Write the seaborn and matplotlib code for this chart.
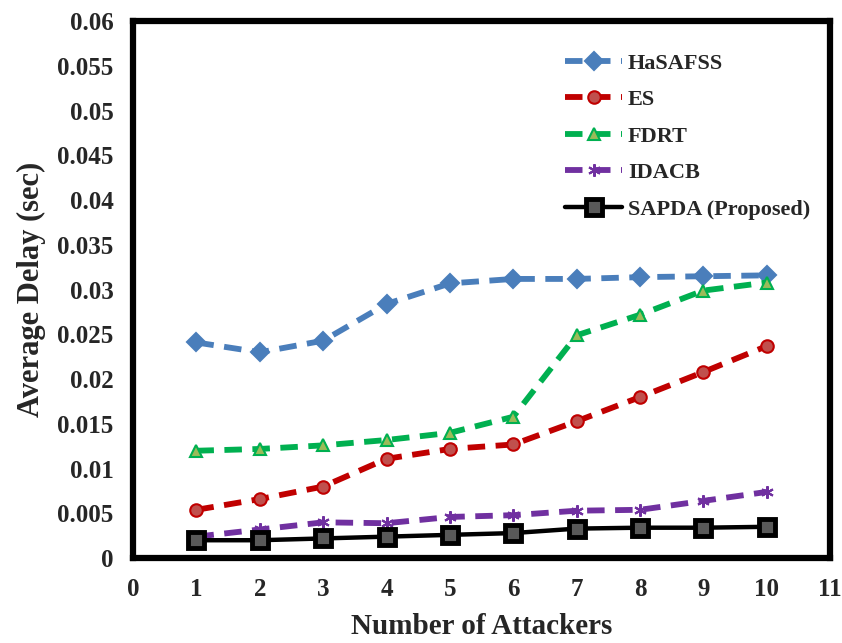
import matplotlib
matplotlib.use("Agg")
import matplotlib.pyplot as plt
from matplotlib.ticker import MultipleLocator, AutoMinorLocator
import seaborn as sns
import pandas as pd

attackers = [1, 2, 3, 4, 5, 6, 7, 8, 9, 10]
hasafss = [0.0241, 0.0230, 0.0243, 0.0284, 0.0307, 0.0312, 0.0312, 0.0314, 0.0315, 0.0316]
es = [0.0054, 0.0066, 0.0080, 0.0111, 0.0122, 0.0127, 0.0153, 0.0180, 0.0208, 0.0237]
fdrt = [0.0120, 0.0122, 0.0126, 0.0132, 0.0140, 0.0158, 0.0249, 0.0272, 0.0299, 0.0308]
idacb = [0.0024, 0.0032, 0.0040, 0.0039, 0.0046, 0.0048, 0.0053, 0.0054, 0.0064, 0.0074]
sapda = [0.0020, 0.0020, 0.0022, 0.0024, 0.0026, 0.0028, 0.0033, 0.0034, 0.0034, 0.0035]

sns.set_style("white")
plt.rcParams['font.family'] = ['Liberation Serif', 'DejaVu Serif']
plt.rcParams['font.weight'] = 'bold'

series = [
    # name, values, line colour, marker, marker face, dashed
    ("HaSAFSS", hasafss, "#4a7ebb", "D", "#4a7ebb", True),
    ("ES", es, "#c00000", "o", "#c0504d", True),
    ("FDRT", fdrt, "#00b050", "^", "#9bbb59", True),
    ("IDACB", idacb, "#7030a0", (6, 2, 0), "#7030a0", True),
    ("SAPDA (Proposed)", sapda, "black", "s", "#595959", False),
]

fig = plt.figure(figsize=(8.42, 6.43), dpi=100)
ax = fig.add_axes([0.158, 0.132, 0.828, 0.835])

for name, vals, col, mk, mfc, dashed in series:
    df = pd.DataFrame({"x": attackers, "y": vals})
    sns.lineplot(
        data=df, x="x", y="y", ax=ax, label=name,
        color=col, linewidth=4.2 if dashed else 3.2,
        linestyle=(0, (3, 1.8)) if dashed else "-",
        marker=mk, markersize=9 if mk != "s" else 12,
        markerfacecolor=mfc,
        markeredgecolor=col if mk != "s" else "black",
        markeredgewidth=1.5 if mk != "s" else 3.5,
    )

ax.set_xlim(0, 11)
ax.set_ylim(0, 0.06)
ax.xaxis.set_major_locator(MultipleLocator(1))
ax.xaxis.set_minor_locator(AutoMinorLocator(5))
ax.set_yticks([i * 0.005 for i in range(13)])
ax.set_yticklabels(["0"] + [("%.3f" % (i * 0.005)).rstrip("0") for i in range(1, 13)])
ax.yaxis.set_minor_locator(AutoMinorLocator(5))

for sp in ax.spines.values():
    sp.set_linewidth(4.5)
    sp.set_color("black")

ax.tick_params(axis="both", which="major", direction="out", length=6, width=1,
               color="#404040", labelsize=18, pad=8)
ax.tick_params(axis="both", which="minor", direction="out", length=3, width=0.8,
               color="#808080")
ax.tick_params(axis="x", pad=8)
for lab in ax.get_xticklabels() + ax.get_yticklabels():
    lab.set_fontweight("bold")

ax.set_xlabel("Number of Attackers", fontsize=21, fontweight="bold", labelpad=9)
ax.set_ylabel("Average Delay (sec)", fontsize=22, fontweight="bold", labelpad=8)

leg = ax.legend(loc="upper right", bbox_to_anchor=(1.0, 0.978), frameon=False,
                fontsize=16, handlelength=2.6, labelspacing=0.72, handletextpad=0.25)
for t in leg.get_texts():
    t.set_fontweight("bold")

fig.savefig("out.png", dpi=100)
